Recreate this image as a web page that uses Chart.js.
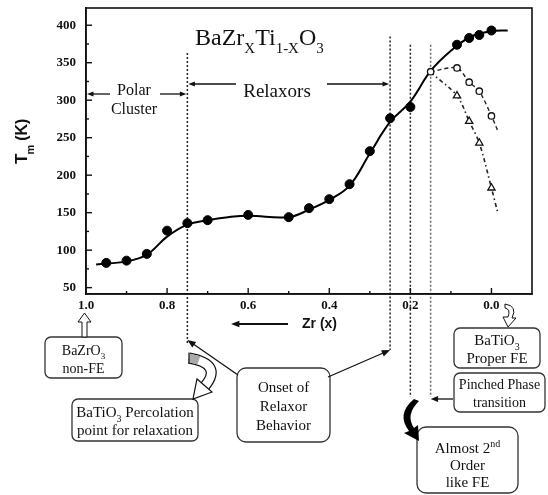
<!DOCTYPE html>
<html>
<head>
<meta charset="utf-8">
<script src="https://cdn.jsdelivr.net/npm/chart.js@4.4.1/dist/chart.umd.min.js"></script>
<style>
  html, body { margin: 0; padding: 0; background: #fff; }
  #wrap { width: 548px; height: 495px; position: relative; }
</style>
</head>
<body>
<div id="wrap"><canvas id="tmChart"></canvas></div>
<script>
// Smooth guide curve through the Tm data (x = Zr content)
const fitX = [0.975, 0.9, 0.85, 0.8, 0.75, 0.7, 0.65, 0.6, 0.5, 0.45, 0.4, 0.35, 0.3, 0.25, 0.2, 0.15, 0.1, 0.05, 0.0, -0.04];
const fitY = [81, 85, 94, 118, 134, 140, 144, 146, 144, 154, 167, 186, 229, 271, 298, 339, 366, 385, 392, 393];

// Measured Tm (filled circles)
const tmX = [0.95, 0.9, 0.85, 0.8, 0.75, 0.7, 0.6, 0.5, 0.45, 0.4, 0.35, 0.3, 0.25, 0.2, 0.085, 0.055, 0.03, 0.0];
const tmY = [83, 86, 95, 126, 136, 140, 147, 144, 156, 168, 188, 232, 276, 291, 374, 383, 387, 393];

// Branches after the pinched transition
const openX = [0.15, 0.085, 0.055, 0.03, 0.0, -0.015];
const openY = [338, 343, 324, 312, 279, 260];
const triX = [0.15, 0.085, 0.055, 0.03, 0.0, -0.015];
const triY = [337, 306, 272, 243, 183, 151];

// Vertical markers (x) and where they start (Tm)
const markX = [0.75, 0.25, 0.2, 0.15];
const markTop = [363, 385, 374, 374];

const SERIF = '"Liberation Serif", "Times New Roman", serif';
const SANS = '"Liberation Sans", Arial, sans-serif';

function pts(xs, ys) {
    return xs.map((x, i) => ({ x: x, y: ys[i] }));
}

// text with sub/superscript parts, centred on cx (or left aligned)
function drawRich(c, parts, cx, y, size, left) {
    const fontOf = p => (p[1] ? Math.round(size * 0.64) : size) + 'px ' + SERIF;
    let w = 0;
    parts.forEach(p => { c.font = fontOf(p); w += c.measureText(p[0]).width; });
    let x = left ? cx : cx - w / 2;
    c.textAlign = 'left';
    c.textBaseline = 'alphabetic';
    parts.forEach(p => {
        c.font = fontOf(p);
        const dy = p[1] === 'sub' ? size * 0.32 : (p[1] === 'sup' ? -size * 0.38 : 0);
        c.fillText(p[0], x, y + dy);
        x += c.measureText(p[0]).width;
    });
}

function arrowLine(c, x1, y1, x2, y2, head) {
    const a = Math.atan2(y2 - y1, x2 - x1);
    c.beginPath();
    c.moveTo(x1, y1);
    c.lineTo(x2 - Math.cos(a) * head * 0.7, y2 - Math.sin(a) * head * 0.7);
    c.stroke();
    c.beginPath();
    c.moveTo(x2, y2);
    c.lineTo(x2 - head * Math.cos(a - 0.38), y2 - head * Math.sin(a - 0.38));
    c.lineTo(x2 - head * Math.cos(a + 0.38), y2 - head * Math.sin(a + 0.38));
    c.closePath();
    c.fill();
}

function roundBox(c, x, y, w, h, r) {
    c.beginPath();
    c.moveTo(x + r, y);
    c.arcTo(x + w, y, x + w, y + h, r);
    c.arcTo(x + w, y + h, x, y + h, r);
    c.arcTo(x, y + h, x, y, r);
    c.arcTo(x, y, x + w, y, r);
    c.closePath();
    c.fillStyle = '#fff';
    c.fill();
    c.stroke();
}

const notesPlugin = {
    id: 'notes',
    beforeDatasetsDraw(chart) {
        const c = chart.ctx, xs = chart.scales.x, ys = chart.scales.y;
        const bottoms = [343, 350, 397, 397];
        c.save();
        c.lineWidth = 1.5;
        c.setLineDash([2, 2]);
        markX.forEach((mx, i) => {
            const px = xs.getPixelForValue(mx);
            c.strokeStyle = i === 3 ? '#666' : '#222';
            c.beginPath();
            c.moveTo(px, ys.getPixelForValue(markTop[i]));
            c.lineTo(px, bottoms[i]);
            c.stroke();
        });
        c.restore();
    },
    afterDraw(chart) {
        const c = chart.ctx, a = chart.chartArea, xs = chart.scales.x, ys = chart.scales.y;
        c.save();
        c.strokeStyle = '#111';
        c.fillStyle = '#111';

        // frame
        c.lineWidth = 1.6;
        c.strokeRect(a.left, a.top, a.right - a.left, a.bottom - a.top);

        // inward ticks
        c.lineWidth = 1.4;
        xs.ticks.forEach(t => {
            const px = xs.getPixelForValue(t.value);
            if (px > a.right - 2) return;
            const len = t.label ? 6 : 3;
            c.beginPath(); c.moveTo(px, a.bottom); c.lineTo(px, a.bottom - len); c.stroke();
        });
        ys.ticks.forEach(t => {
            const py = ys.getPixelForValue(t.value);
            const len = t.label ? 6 : 3;
            c.beginPath(); c.moveTo(a.left, py); c.lineTo(a.left + len, py); c.stroke();
        });

        // title
        drawRich(c, [['BaZr', ''], ['X', 'sub'], ['Ti', ''], ['1-X', 'sub'], ['O', ''], ['3', 'sub']], 195, 45, 24, true);

        // y axis title  T_m (K)
        c.save();
        c.translate(27, 164);
        c.rotate(-Math.PI / 2);
        c.textAlign = 'left';
        c.textBaseline = 'alphabetic';
        c.font = 'bold 17px ' + SANS;
        c.fillText('T', 0, 0);
        let w = c.measureText('T').width;
        c.font = 'bold 11px ' + SANS;
        c.fillText('m', w - 1, 7);
        w += c.measureText('m').width + 3;
        c.font = 'bold 16px ' + SANS;
        c.fillText('(K)', w, 0);
        c.restore();

        // x axis label
        c.lineWidth = 2;
        arrowLine(c, 288, 324, 231, 324, 9);
        c.font = 'bold 14px ' + SANS;
        c.textAlign = 'left';
        c.textBaseline = 'middle';
        c.fillText('Zr (x)', 302, 324);

        // region labels
        const p75 = xs.getPixelForValue(markX[0]);
        const p25 = xs.getPixelForValue(markX[1]);
        c.lineWidth = 1.3;
        arrowLine(c, 110, 94, a.left + 1, 94, 7);
        arrowLine(c, 160, 94, p75 - 1, 94, 7);
        drawRich(c, [['Polar', '']], 134, 95, 16);
        drawRich(c, [['Cluster', '']], 134, 114, 16);
        arrowLine(c, 236, 84, p75 + 1, 84, 7);
        arrowLine(c, 327, 84, p25 - 1, 84, 7);
        drawRich(c, [['Relaxors', '']], 277, 97, 19);

        // callout boxes
        c.lineWidth = 1.3;
        c.strokeStyle = '#333';
        roundBox(c, 45, 337, 77, 41, 6);
        roundBox(c, 72, 399, 126, 42, 6);
        roundBox(c, 237, 368, 93, 74, 9);
        roundBox(c, 454, 328, 86, 40, 6);
        roundBox(c, 454, 373, 91, 39, 6);
        roundBox(c, 417, 427, 101, 66, 9);

        c.fillStyle = '#111';
        drawRich(c, [['BaZrO', ''], ['3', 'sub']], 83.5, 355, 14);
        drawRich(c, [['non-FE', '']], 83.5, 373, 14);
        drawRich(c, [['BaTiO', ''], ['3', 'sub'], [' Percolation', '']], 135, 417, 15);
        drawRich(c, [['point for relaxation', '']], 135, 435, 15);
        drawRich(c, [['Onset of', '']], 283.5, 392, 15);
        drawRich(c, [['Relaxor', '']], 283.5, 411, 15);
        drawRich(c, [['Behavior', '']], 283.5, 430, 15);
        drawRich(c, [['BaTiO', ''], ['3', 'sub']], 497, 345, 15);
        drawRich(c, [['Proper FE', '']], 497, 363, 15);
        drawRich(c, [['Pinched Phase', '']], 499.5, 389, 14);
        drawRich(c, [['transition', '']], 499.5, 407, 14);
        drawRich(c, [['Almost 2', ''], ['nd', 'sup']], 467.5, 453, 15);
        drawRich(c, [['Order', '']], 467.5, 470, 15);
        drawRich(c, [['like FE', '']], 467.5, 487, 15);

        // pointer arrows
        c.strokeStyle = '#111';
        c.lineWidth = 1.3;
        arrowLine(c, 238, 375, p75, 340, 9);
        arrowLine(c, 328, 377, p25, 350, 9);
        arrowLine(c, 453, 399, xs.getPixelForValue(markX[3]), 399, 8);

        // hollow up arrow to x = 1.0
        c.lineWidth = 1;
        c.beginPath();
        c.moveTo(84.5, 313); c.lineTo(91, 322); c.lineTo(87, 322); c.lineTo(87, 337);
        c.lineTo(82, 337); c.lineTo(82, 322); c.lineTo(78, 322); c.closePath();
        c.fillStyle = '#fff'; c.fill(); c.stroke();

        // curved hollow arrow to the percolation box (grey start)
        c.lineCap = 'butt';
        c.beginPath();
        c.moveTo(189, 358);
        c.quadraticCurveTo(223, 364, 205, 386);
        c.strokeStyle = '#111'; c.lineWidth = 11; c.stroke();
        c.strokeStyle = '#fff'; c.lineWidth = 8.6; c.stroke();
        c.setLineDash([10, 999]);
        c.strokeStyle = '#aaa'; c.stroke();
        c.setLineDash([]);
        c.strokeStyle = '#111'; c.lineWidth = 1.2;
        c.beginPath(); c.moveTo(189, 352.5); c.lineTo(189, 363.5); c.stroke();
        c.beginPath();
        c.moveTo(212, 392); c.lineTo(193, 399); c.lineTo(197, 379); c.closePath();
        c.fillStyle = '#fff'; c.fill(); c.stroke();

        // small curved arrow from x = 0.0
        c.lineWidth = 1;
        c.beginPath();
        c.moveTo(505, 304);
        c.quadraticCurveTo(518, 306, 512, 318);
        c.lineTo(516, 318); c.lineTo(508, 327); c.lineTo(503, 317); c.lineTo(508, 317);
        c.quadraticCurveTo(511, 309, 505, 308);
        c.closePath();
        c.fillStyle = '#fff'; c.fill(); c.stroke();

        // black curved arrow to the 2nd order box
        c.beginPath();
        c.moveTo(414, 399);
        c.quadraticCurveTo(396, 414, 409, 431);
        c.lineTo(404, 433); c.lineTo(419, 441); c.lineTo(418, 425); c.lineTo(414, 428);
        c.quadraticCurveTo(405, 415, 419, 401);
        c.closePath();
        c.fillStyle = '#000'; c.fill();

        c.restore();
    }
};

document.addEventListener('DOMContentLoaded', function() {
    const ctx = document.getElementById('tmChart').getContext('2d');
    const last = openX.length - 1;

    new Chart(ctx, {
        type: 'scatter',
        data: {
            datasets: [{
                label: 'Tm',
                data: pts(tmX, tmY),
                pointRadius: 4.5,
                pointBackgroundColor: '#000',
                pointBorderColor: '#000',
                showLine: false
            }, {
                label: 'open',
                data: pts(openX, openY),
                showLine: true,
                borderColor: '#222',
                borderWidth: 1.4,
                borderDash: [4, 3],
                tension: 0.3,
                pointStyle: 'circle',
                pointRadius: c => (c.dataIndex === last ? 0 : 3.2),
                pointBackgroundColor: '#fff',
                pointBorderColor: '#111',
                pointBorderWidth: 1.3
            }, {
                label: 'triangle',
                data: pts(triX, triY),
                showLine: true,
                borderColor: '#222',
                borderWidth: 1.6,
                borderDash: [4, 3, 1.5, 3],
                tension: 0.3,
                pointStyle: 'triangle',
                pointRadius: c => (c.dataIndex === 0 || c.dataIndex === last ? 0 : 4.2),
                pointBackgroundColor: '#fff',
                pointBorderColor: '#111',
                pointBorderWidth: 1.3
            }, {
                label: 'fit',
                data: pts(fitX, fitY),
                showLine: true,
                borderColor: '#000',
                borderWidth: 2,
                tension: 0.4,
                pointRadius: 0
            }]
        },
        options: {
            responsive: true,
            maintainAspectRatio: false,
            animation: false,
            layout: { padding: { left: 0, top: 8, right: 16, bottom: 161 } },
            plugins: {
                legend: { display: false },
                tooltip: { enabled: false }
            },
            scales: {
                x: {
                    type: 'linear',
                    reverse: true,
                    min: -0.1,
                    max: 1.0,
                    grid: { display: false, drawTicks: false },
                    border: { display: true, color: '#111', width: 1.6 },
                    ticks: {
                        stepSize: 0.1,
                        autoSkip: false,
                        maxRotation: 0,
                        padding: 4,
                        color: '#111',
                        font: { family: SERIF, size: 13, weight: 'bold' },
                        callback: function(v) {
                            const k = Math.round(v * 10);
                            return (k >= 0 && k % 2 === 0) ? (k / 10).toFixed(1) : '';
                        }
                    },
                    afterFit: function(s) {
                        s.height = 40;
                        s.paddingLeft = 0;
                        s.paddingRight = 0;
                    }
                },
                y: {
                    min: 41.5,
                    max: 423,
                    grid: { display: false, drawTicks: false },
                    border: { display: true, color: '#111', width: 1.6 },
                    ticks: {
                        stepSize: 25,
                        includeBounds: false,
                        autoSkip: false,
                        padding: 10,
                        color: '#111',
                        font: { family: SERIF, size: 13, weight: 'bold' },
                        callback: function(v) {
                            return v % 50 === 0 ? String(v) : '';
                        }
                    },
                    afterFit: function(s) {
                        s.width = 86;
                        s.paddingTop = 0;
                        s.paddingBottom = 0;
                    }
                }
            }
        },
        plugins: [notesPlugin]
    });
});
</script>
</body>
</html>
